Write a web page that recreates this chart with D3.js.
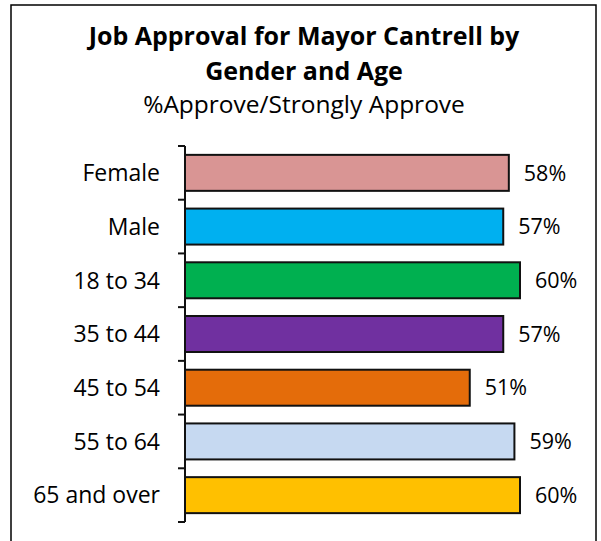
<!DOCTYPE html>
<html>
<head>
<meta charset="utf-8">
<script src="https://cdn.jsdelivr.net/npm/d3@7"></script>
<style>
  html, body { margin: 0; padding: 0; background: #fff; }
  svg { display: block; }
  text { font-family: "Open Sans", "Noto Sans", sans-serif; fill: #000; }
</style>
</head>
<body>
<svg id="chart" width="601" height="541"></svg>
<script>
// Job approval by demographic group
const categories = ["Female", "Male", "18 to 34", "35 to 44", "45 to 54", "55 to 64", "65 and over"];
const approval = [58, 57, 60, 57, 51, 59, 60];
const barColors = ["#D99594", "#00B0F0", "#00B050", "#7030A0", "#E46C0A", "#C6D9F1", "#FFC000"];
const titleLines = ["Job Approval for Mayor Cantrell by", "Gender and Age"];
const subtitle = "%Approve/Strongly Approve";

const svg = d3.select("#chart");
const W = 601, H = 541;

// outer frame
svg.append("rect")
  .attr("x", 11).attr("y", 5)
  .attr("width", 585).attr("height", H + 10)
  .attr("fill", "none").attr("stroke", "#000").attr("stroke-width", 1.5);

// titles
svg.append("text").attr("x", 304).attr("y", 45)
  .attr("text-anchor", "middle").attr("font-size", 25).attr("font-weight", "bold")
  .text(titleLines[0]);
svg.append("text").attr("x", 304).attr("y", 80)
  .attr("text-anchor", "middle").attr("font-size", 25).attr("font-weight", "bold")
  .text(titleLines[1]);
svg.append("text").attr("x", 304).attr("y", 113)
  .attr("text-anchor", "middle").attr("font-size", 24.5)
  .text(subtitle);

// scales
const x = d3.scaleLinear().domain([0, 60]).range([185, 520]);
const y = d3.scaleBand().domain(categories).range([146, 522])
  .paddingInner(0.33).paddingOuter(0.165);

const data = categories.map((c, i) => ({ cat: c, value: approval[i], color: barColors[i] }));

// bars
svg.append("g").selectAll("rect").data(data).join("rect")
  .attr("x", x(0))
  .attr("y", d => y(d.cat))
  .attr("width", d => x(d.value) - x(0))
  .attr("height", y.bandwidth())
  .attr("fill", d => d.color)
  .attr("stroke", "#111").attr("stroke-width", 2);

// category axis with boundary ticks
const step = y.step();
const axis = svg.append("g");
axis.append("line")
  .attr("x1", x(0)).attr("x2", x(0))
  .attr("y1", y.range()[0]).attr("y2", y.range()[1])
  .attr("stroke", "#111").attr("stroke-width", 2);
const tickYs = categories.map(c => y(c) - step * y.paddingInner() / 2).concat([y.range()[1]]);
axis.selectAll("line.tick").data(tickYs).join("line")
  .attr("class", "tick")
  .attr("x1", x(0) - 7).attr("x2", x(0))
  .attr("y1", d => d).attr("y2", d => d)
  .attr("stroke", "#111").attr("stroke-width", 2);

// category labels
axis.selectAll("text").data(categories).join("text")
  .attr("x", 160)
  .attr("y", d => y(d) + y.bandwidth() / 2)
  .attr("dy", "0.36em")
  .attr("text-anchor", "end").attr("font-size", 23)
  .text(d => d);

// value labels
svg.append("g").selectAll("text").data(data).join("text")
  .attr("x", d => x(d.value) + 15)
  .attr("y", d => y(d.cat) + y.bandwidth() / 2)
  .attr("dy", "0.36em")
  .attr("font-size", 21.5)
  .text(d => d.value + "%");
</script>
</body>
</html>
